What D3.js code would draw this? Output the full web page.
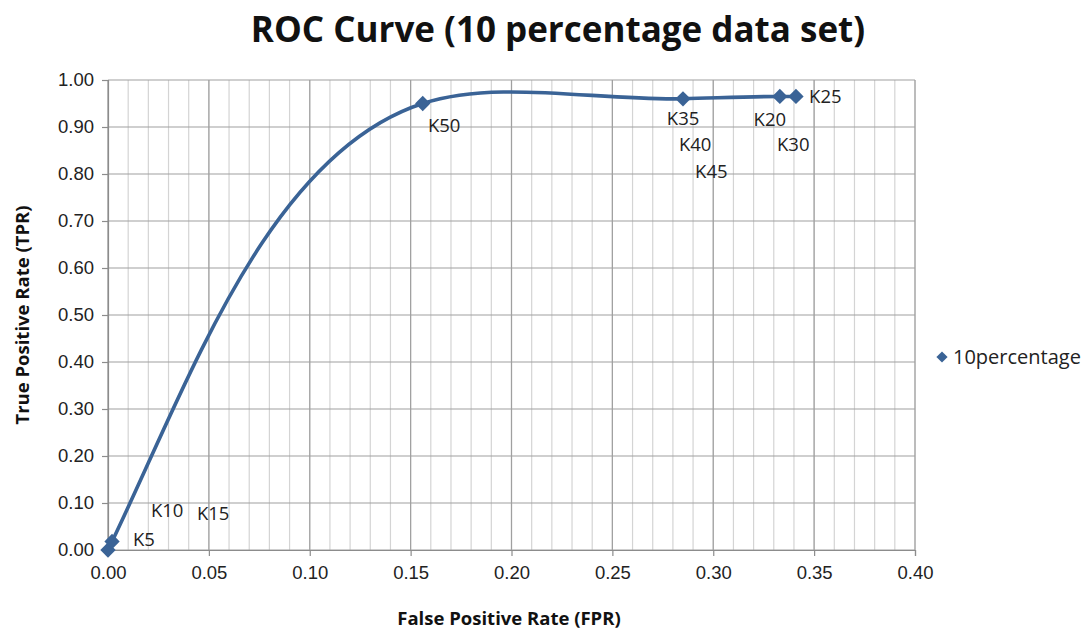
<!DOCTYPE html>
<html>
<head>
<meta charset="utf-8">
<script src="https://cdn.jsdelivr.net/npm/d3@7"></script>
<style>
body { margin: 0; background: #fff; }
svg { font-family: "Open Sans", "Noto Sans", sans-serif; }
</style>
</head>
<body>
<svg id="chart" width="1091" height="630"></svg>
<script>
// points of the series, ordered along the line
var fpr = [0.000, 0.002, 0.156, 0.285, 0.333, 0.341];
var tpr = [0.000, 0.018, 0.950, 0.960, 0.965, 0.965];

// data labels and where they sit (in data units)
var labelText = ["K5", "K10", "K15", "K20", "K25", "K30", "K35", "K40", "K45", "K50"];
var labelFpr = [0.0124, 0.0213, 0.0441, 0.3200, 0.3475, 0.3316, 0.2770, 0.2830, 0.2910, 0.1586];
var labelTpr = [0.023, 0.085, 0.077, 0.915, 0.964, 0.862, 0.917, 0.862, 0.806, 0.904];

var xTicks = [0, 0.05, 0.10, 0.15, 0.20, 0.25, 0.30, 0.35, 0.40];
var yTicks = [0, 0.1, 0.2, 0.3, 0.4, 0.5, 0.6, 0.7, 0.8, 0.9, 1.0];
var xMinor = d3.range(0, 41).map(function(d){ return d / 100; });

var seriesName = "10percentage";
var blue = "#3a6396";

var svg = d3.select("#chart");
var pLeft = 108, pRight = 915, pTop = 80, pBottom = 550;

var x = d3.scaleLinear().domain([0, 0.40]).range([pLeft, pRight]);
var y = d3.scaleLinear().domain([0, 1.0]).range([pBottom, pTop]);

// minor vertical grid
svg.append("g")
	.selectAll("line")
	.data(xMinor)
	.enter().append("line")
	.attr("x1", function(d){ return x(d); })
	.attr("x2", function(d){ return x(d); })
	.attr("y1", pTop).attr("y2", pBottom)
	.attr("stroke", "#d4d4d4")
	.attr("stroke-width", 1.2);

// major vertical grid
svg.append("g")
	.selectAll("line")
	.data(xTicks)
	.enter().append("line")
	.attr("x1", function(d){ return x(d); })
	.attr("x2", function(d){ return x(d); })
	.attr("y1", pTop).attr("y2", pBottom)
	.attr("stroke", "#a0a0a0")
	.attr("stroke-width", 1.2);

// horizontal grid
svg.append("g")
	.selectAll("line")
	.data(yTicks)
	.enter().append("line")
	.attr("x1", pLeft).attr("x2", pRight)
	.attr("y1", function(d){ return y(d); })
	.attr("y2", function(d){ return y(d); })
	.attr("stroke", "#a0a0a0")
	.attr("stroke-width", 1.2);

// axes
var xAxis = svg.append("g")
	.attr("transform", "translate(0," + pBottom + ")")
	.call(d3.axisBottom(x).tickValues(xTicks).tickFormat(d3.format(".2f")).tickSize(6).tickPadding(10));
var yAxis = svg.append("g")
	.attr("transform", "translate(" + pLeft + ",0)")
	.call(d3.axisLeft(y).tickValues(yTicks).tickFormat(d3.format(".2f")).tickSize(6).tickPadding(8));

[xAxis, yAxis].forEach(function(a){
	a.select(".domain").attr("stroke", "#8c8c8c").attr("stroke-width", 1.2);
	a.selectAll(".tick line").attr("stroke", "#8c8c8c").attr("stroke-width", 1.2);
	a.selectAll("text").style("font-size", "18.5px").attr("fill", "#222");
});

// the curve
var pts = fpr.map(function(d, i){ return [d, tpr[i]]; });
var line = d3.line()
	.x(function(d){ return x(d[0]); })
	.y(function(d){ return y(d[1]); })
	.curve(d3.curveCatmullRom.alpha(1));

svg.append("path")
	.datum(pts)
	.attr("d", line)
	.attr("fill", "none")
	.attr("stroke", blue)
	.attr("stroke-width", 3.6);

var diamond = d3.symbol().type(d3.symbolDiamond2).size(150);
svg.append("g")
	.selectAll("path")
	.data(pts)
	.enter().append("path")
	.attr("d", diamond)
	.attr("transform", function(d){ return "translate(" + x(d[0]) + "," + y(d[1]) + ")"; })
	.attr("fill", blue);

// data labels
svg.append("g")
	.selectAll("text")
	.data(labelText)
	.enter().append("text")
	.attr("x", function(d, i){ return x(labelFpr[i]); })
	.attr("y", function(d, i){ return y(labelTpr[i]); })
	.attr("dy", "0.35em")
	.style("font-size", "18.5px")
	.attr("fill", "#222")
	.text(function(d){ return d; });

// titles
svg.append("text")
	.attr("x", 558).attr("y", 42)
	.attr("text-anchor", "middle")
	.style("font-size", "35px").style("font-weight", "bold")
	.attr("fill", "#111")
	.text("ROC Curve (10 percentage data set)");

svg.append("text")
	.attr("x", 509).attr("y", 625)
	.attr("text-anchor", "middle")
	.style("font-size", "18.5px").style("font-weight", "bold")
	.attr("fill", "#111")
	.text("False Positive Rate (FPR)");

svg.append("text")
	.attr("transform", "translate(29,315) rotate(-90)")
	.attr("text-anchor", "middle")
	.style("font-size", "18.5px").style("font-weight", "bold")
	.attr("fill", "#111")
	.text("True Positive Rate (TPR)");

// legend
svg.append("path")
	.attr("d", d3.symbol().type(d3.symbolDiamond2).size(80))
	.attr("transform", "translate(942,357)")
	.attr("fill", blue);
svg.append("text")
	.attr("x", 953).attr("y", 357)
	.attr("dy", "0.35em")
	.style("font-size", "20px")
	.attr("fill", "#222")
	.text(seriesName);
</script>
</body>
</html>
